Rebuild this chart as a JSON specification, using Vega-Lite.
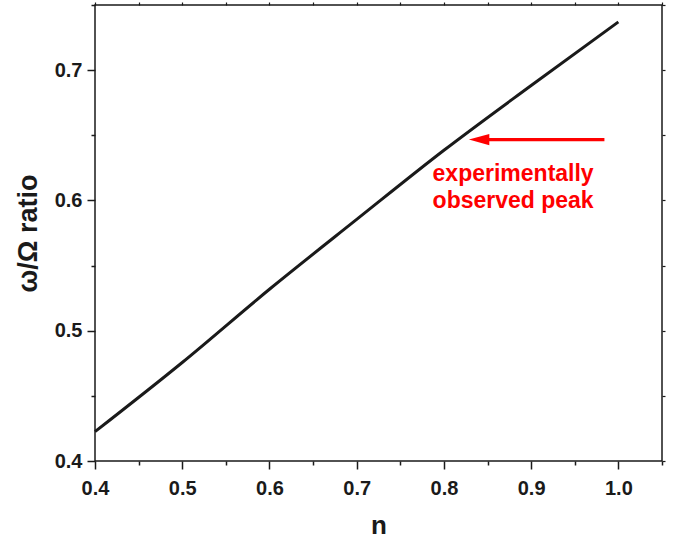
{
  "$schema": "https://vega.github.io/schema/vega-lite/v6.json",
  "width": 567,
  "height": 456,
  "autosize": "none",
  "padding": {"left": 95, "top": 5, "right": 16, "bottom": 79},
  "background": "white",
  "config": {
    "view": {"stroke": "#1a1a1a", "strokeWidth": 1.5},
    "font": "Liberation Sans"
  },
  "datasets": {
    "curve": [
      {"n": 0.4, "ratio": 0.4225},
      {"n": 0.5, "ratio": 0.4756},
      {"n": 0.6, "ratio": 0.5318},
      {"n": 0.7, "ratio": 0.5854},
      {"n": 0.8, "ratio": 0.6385},
      {"n": 0.9, "ratio": 0.6882},
      {"n": 1.0, "ratio": 0.737}
    ],
    "arrow": [
      {"from": 0.984, "to": 0.845, "head": 0.8403, "level": 0.6467}
    ],
    "label": [
      {"n": 0.787, "ratio": 0.6152, "text": "experimentally"},
      {"n": 0.787, "ratio": 0.5944, "text": "observed peak"}
    ]
  },
  "layer": [
    {
      "data": {"name": "curve"},
      "mark": {"type": "line", "color": "#1a1a1a", "strokeWidth": 3, "interpolate": "monotone"},
      "encoding": {
        "x": {
          "field": "n", "type": "quantitative",
          "scale": {"domain": [0.4, 1.05], "nice": false, "zero": false},
          "axis": {
            "orient": "bottom",
            "title": "n",
            "values": [0.4, 0.45, 0.5, 0.55, 0.6, 0.65, 0.7, 0.75, 0.8, 0.85, 0.9, 0.95, 1.0, 1.05],
            "labelExpr": "abs(datum.value*10 - round(datum.value*10)) < 0.001 ? format(datum.value, '.1f') : ''",
            "domain": false,
            "grid": false,
            "tickColor": "#1a1a1a",
            "tickWidth": 1.5,
            "tickSize": {"condition": {"test": "abs(datum.value*10 - round(datum.value*10)) < 0.001", "value": 8}, "value": 4},
            "labelFont": "Liberation Sans",
            "labelFontSize": 20,
            "labelFontWeight": "bold",
            "labelColor": "#1a1a1a",
            "labelPadding": 9,
            "labelFlush": false,
            "titleFont": "Liberation Sans",
            "titleFontSize": 26,
            "titleFontWeight": "bold",
            "titleColor": "#1a1a1a",
            "titlePadding": 14
          }
        },
        "y": {
          "field": "ratio", "type": "quantitative",
          "scale": {"domain": [0.4, 0.75], "nice": false, "zero": false},
          "axis": {
            "orient": "left",
            "title": "ω/Ω ratio",
            "values": [0.4, 0.45, 0.5, 0.55, 0.6, 0.65, 0.7, 0.75],
            "labelExpr": "abs(datum.value*10 - round(datum.value*10)) < 0.001 ? format(datum.value, '.1f') : ''",
            "domain": false,
            "grid": false,
            "tickColor": "#1a1a1a",
            "tickWidth": 1.5,
            "tickSize": {"condition": {"test": "abs(datum.value*10 - round(datum.value*10)) < 0.001", "value": 8}, "value": 4},
            "labelFont": "Liberation Sans",
            "labelFontSize": 20,
            "labelFontWeight": "bold",
            "labelColor": "#1a1a1a",
            "labelPadding": 5,
            "labelFlush": false,
            "titleFont": "Liberation Sans",
            "titleFontSize": 27,
            "titleFontWeight": "bold",
            "titleColor": "#1a1a1a",
            "titlePadding": 12
          }
        }
      }
    },
    {
      "data": {"name": "arrow"},
      "mark": {"type": "rule", "color": "#ff0000", "strokeWidth": 3.2},
      "encoding": {
        "x": {
          "field": "from", "type": "quantitative",
          "axis": {
            "orient": "top", "title": null, "labels": false, "domain": false, "grid": false,
            "values": [0.4, 0.45, 0.5, 0.55, 0.6, 0.65, 0.7, 0.75, 0.8, 0.85, 0.9, 0.95, 1.0, 1.05],
            "tickColor": "#1a1a1a", "tickWidth": 1.2, "tickSize": 3
          }
        },
        "x2": {"field": "to"},
        "y": {
          "field": "level", "type": "quantitative",
          "axis": {
            "orient": "right", "title": null, "labels": false, "domain": false, "grid": false,
            "values": [0.4, 0.45, 0.5, 0.55, 0.6, 0.65, 0.7, 0.75],
            "tickColor": "#1a1a1a", "tickWidth": 1.2, "tickSize": 3
          }
        }
      }
    },
    {
      "data": {"name": "arrow"},
      "mark": {"type": "point", "shape": "M-1,0L1,-0.55L1,0.55Z", "filled": true, "color": "#ff0000", "opacity": 1, "size": 420},
      "encoding": {
        "x": {"field": "head", "type": "quantitative", "axis": null},
        "y": {"field": "level", "type": "quantitative", "axis": null}
      }
    },
    {
      "data": {"name": "label"},
      "mark": {"type": "text", "align": "left", "baseline": "alphabetic", "font": "Liberation Sans", "fontSize": 23, "fontWeight": "bold", "color": "#ff0000"},
      "encoding": {
        "x": {"field": "n", "type": "quantitative", "axis": null},
        "y": {"field": "ratio", "type": "quantitative", "axis": null},
        "text": {"field": "text", "type": "nominal"}
      }
    }
  ],
  "resolve": {"axis": {"x": "independent", "y": "independent"}}
}
